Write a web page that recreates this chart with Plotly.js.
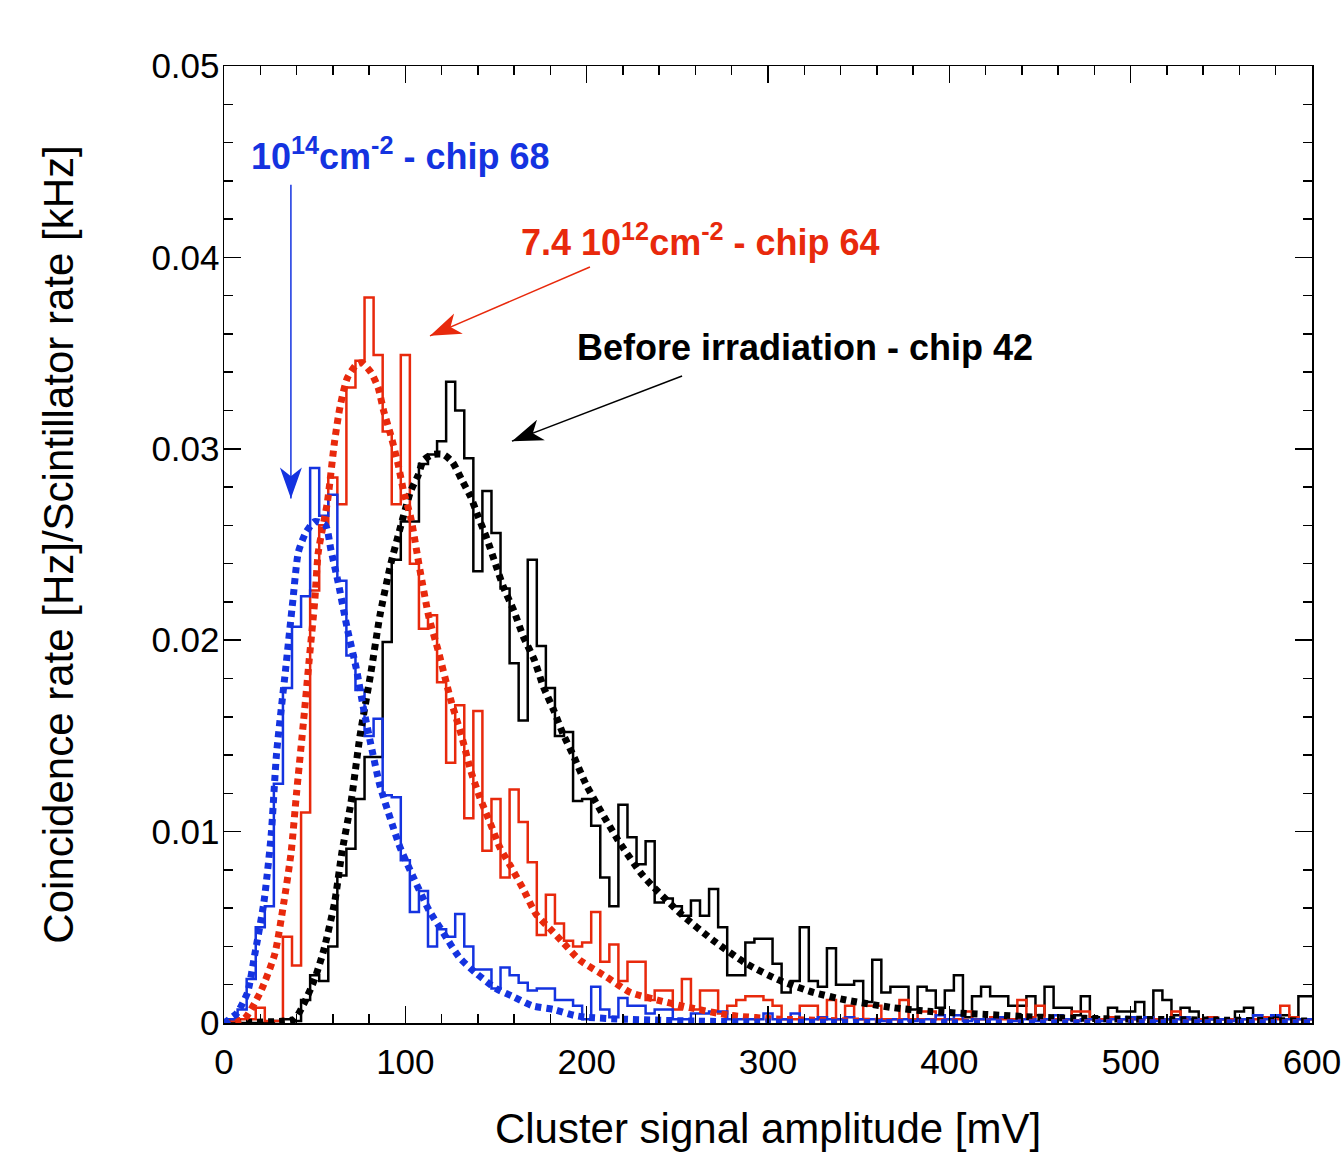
<!DOCTYPE html>
<html>
<head>
<meta charset="utf-8">
<script src="https://cdn.plot.ly/plotly-3.0.1.min.js"></script>
<style>
  html, body { margin: 0; padding: 0; background: #ffffff; }
  #chart { width: 1342px; height: 1152px; }
</style>
</head>
<body>
<div id="chart"></div>
<script>
// ---- Data ----
// Histogram bin centres [mV], bin width 5 mV
const binCenters = [0,5,10,15,20,25,30,35,40,45,50,55,60,65,70,75,80,85,90,95,
  100,105,110,115,120,125,130,135,140,145,150,155,160,165,170,175,180,185,190,195,
  200,205,210,215,220,225,230,235,240,245,250,255,260,265,270,275,280,285,290,295,
  300,305,310,315,320,325,330,335,340,345,350,355,360,365,370,375,380,385,390,395,
  400,405,410,415,420,425,430,435,440,445,450,455,460,465,470,475,480,485,490,495,
  500,505,510,515,520,525,530,535,540,545,550,555,560,565,570,575,580,585,590,595,600];

// Before irradiation - chip 42 (black histogram)
const chip42Hist = [0,0,0,0,0,0,0.0001,0.0002,0.0001,0.0012,0.0025,0.0022,0.0040,0.0077,0.0091,0.0117,0.0139,0.0139,0.0199,0.0242,
  0.0262,0.0262,0.0292,0.0297,0.0304,0.0335,0.0320,0.0295,0.0236,0.0278,0.0256,0.0227,0.0188,0.0158,0.0242,0.0197,0.0175,0.0150,0.0152,0.0116,
  0.0117,0.0103,0.0076,0.0061,0.0114,0.0097,0.0083,0.0095,0.0063,0.0065,0.0061,0.0056,0.0064,0.0056,0.0070,0.0050,0.0025,0.0025,0.0042,0.0044,
  0.0044,0.0031,0.0016,0.0022,0.0050,0.0022,0.0019,0.0039,0.0020,0.0020,0.0022,0.0011,0.0033,0.0016,0.0019,0.0019,0.0007,0.0019,0.0017,0.0008,
  0.0017,0.0025,0.0003,0.0014,0.0019,0.0014,0.0014,0.0009,0.0009,0.0014,0.0004,0.0019,0.0008,0.0008,0.0004,0.0014,0.0003,0.0002,0.0008,0.0006,
  0.0006,0.0011,0.0003,0.0017,0.0012,0.0004,0.0008,0.0006,0.0002,0.0002,0.0002,0.0002,0.0006,0.0008,0.0004,0.0003,0.0003,0.0004,0.0003,0.0014,0.0014];

// 7.4 10^12 cm^-2 - chip 64 (red histogram)
const chip64Hist = [0.0001,0.0001,0.0002,0.0002,0.0008,0.0001,0.0001,0.0045,0.0030,0.0110,0.0226,0.0260,0.0285,0.0271,0.0332,0.0346,0.0379,0.0349,0.0309,0.0271,
  0.0349,0.0240,0.0206,0.0213,0.0178,0.0136,0.0166,0.0107,0.0163,0.0090,0.0117,0.0076,0.0122,0.0105,0.0084,0.0046,0.0067,0.0052,0.0043,0.0040,
  0.0042,0.0058,0.0032,0.0041,0.0022,0.0032,0.0032,0.0012,0.0017,0.0017,0.0007,0.0023,0.0007,0.0017,0.0017,0.0005,0.0009,0.0012,0.0014,0.0014,
  0.0012,0.0009,0.0002,0.0002,0.0009,0.0009,0.0002,0.0012,0.0002,0.0009,0.0002,0.0009,0.0009,0.0002,0.0002,0.0012,0.0002,0.0006,0.0006,0.0002,
  0.0002,0.0002,0.0006,0.0002,0.0002,0.0003,0.0002,0.0002,0.0012,0.0003,0.0009,0.0002,0.0002,0.0002,0.0006,0.0006,0.0002,0.0002,0.0003,0.0002,
  0.0002,0.0002,0.0003,0.0002,0.0002,0.0006,0.0002,0.0002,0.0002,0.0003,0.0002,0.0002,0.0002,0.0002,0.0002,0.0003,0.0002,0.0009,0.0003,0.0002,0.0002];

// 10^14 cm^-2 - chip 68 (blue histogram)
const chip68Hist = [0.0001,0.0002,0.0007,0.0023,0.0050,0.0061,0.0125,0.0175,0.0207,0.0223,0.0290,0.0265,0.0276,0.0231,0.0192,0.0174,0.0150,0.0159,0.0119,0.0118,
  0.0085,0.0058,0.0069,0.0040,0.0049,0.0045,0.0057,0.0040,0.0028,0.0028,0.0018,0.0029,0.0025,0.0021,0.0017,0.0018,0.0018,0.0012,0.0012,0.0009,
  0.0002,0.0019,0.0007,0.0003,0.0013,0.0009,0.0009,0.0005,0.0007,0.0007,0.0002,0.0002,0.0005,0.0005,0.0006,0.0006,0.0002,0.0002,0.0002,0.0002,
  0.0005,0.0002,0.0002,0.0005,0.0002,0.0002,0.0003,0.0002,0.0002,0.0003,0.0002,0.0002,0.0002,0.0001,0.0002,0.0002,0.0001,0.0002,0.0002,0.0004,
  0.0002,0.0004,0.0001,0.0002,0.0002,0.0002,0.0003,0.0001,0.0002,0.0002,0.0001,0.0002,0.0004,0.0002,0.0001,0.0002,0.0002,0.0001,0.0002,0.0002,
  0.0003,0.0002,0.0003,0.0001,0.0002,0.0002,0.0003,0.0002,0.0001,0.0002,0.0002,0.0001,0.0002,0.0002,0.0004,0.0002,0.0004,0.0002,0.0002,0.0002,0.0002];

// Fitted curves (dotted)
const chip42FitX = [0,33,39,44,50,55,61,65,70,75,81,86,92,97,99,103,107,110,115,121,126,131,136,140,145,150,154,160,165,171,176,182,187,193,200,217,231,252,270,288,307,325,343,369,390,420,450,500,550,600];
const chip42FitY = [0,0.0001,0.0002,0.0010,0.0023,0.0038,0.0063,0.0089,0.0115,0.0150,0.0183,0.0213,0.0240,0.0258,0.0265,0.0278,0.0286,0.0294,0.0297,0.0297,0.0293,0.0284,0.0275,0.0265,0.0253,0.0239,0.0228,0.0215,0.0202,0.0190,0.0176,0.0163,0.0151,0.0139,0.0124,0.0096,0.0077,0.0057,0.0043,0.0031,0.0022,0.0016,0.0012,0.0008,0.0006,0.00045,0.0003,0.0002,0.00015,0.0001];

const chip64FitX = [0,11,20,28,33,37,40,44,47,50,52,57,61,64,68,73,76,81,85,88,92,96,99,103,108,113,118,125,131,136,141,147,152,158,165,172,180,187,196,211,224,239,257,279,307,350,400,500,600];
const chip64FitY = [0,0.0002,0.0016,0.0036,0.0063,0.0089,0.0120,0.0159,0.0190,0.0220,0.0246,0.0272,0.0304,0.0322,0.0337,0.0344,0.0345,0.0340,0.0332,0.0320,0.0307,0.0292,0.0278,0.0264,0.0237,0.0212,0.0195,0.0169,0.0150,0.0132,0.0118,0.0104,0.0092,0.0082,0.0070,0.0057,0.0049,0.0042,0.0033,0.0024,0.0016,0.0012,0.0008,0.0004,0.0002,0.0001,0.00005,0.00002,0.00001];

const chip68FitX = [0,7,13,17,22,26,29,34,38,41,45,50,56,59,63,68,73,77,82,86,92,97,104,113,121,130,139,150,159,170,182,193,200,220,260,300,400,500,600];
const chip68FitY = [0,0.0005,0.0016,0.0036,0.0063,0.0098,0.0141,0.0185,0.0221,0.0246,0.0256,0.0262,0.0260,0.0247,0.0230,0.0206,0.0185,0.0164,0.0141,0.0124,0.0106,0.0092,0.0077,0.0059,0.0047,0.0034,0.0026,0.0018,0.0014,0.0009,0.0007,0.0004,0.0003,0.0002,0.0001,0.00005,0.00002,0.00001,0.00001];

// Labels
const labels = {
  chip68: '<b>10<sup>14</sup>cm<sup>-2</sup> - chip 68</b>',
  chip64: '<b>7.4 10<sup>12</sup>cm<sup>-2</sup> - chip 64</b>',
  chip42: '<b>Before irradiation - chip 42</b>'
};
const xTitle = 'Cluster signal amplitude [mV]';
const yTitle = 'Coincidence rate [Hz]/Scintillator rate [kHz]';

// ---- Styles ----
const BLACK = '#000000';
const RED = '#e8290c';
const BLUE = '#1433e0';
const FONT = 'Liberation Sans, Arial, Helvetica, sans-serif';

const W = 1342, H = 1152;
const M = { l: 224, r: 30, t: 66, b: 129 };
const X_RANGE = [0, 600], Y_RANGE = [0, 0.05];

function histTrace(y, color) {
  return { x: binCenters, y: y, type: 'scatter', mode: 'lines',
    line: { shape: 'hvh', color: color, width: 2.5 }, hoverinfo: 'skip' };
}
function fitTrace(x, y, color) {
  return { x: x, y: y, type: 'scatter', mode: 'lines',
    line: { shape: 'spline', smoothing: 0.6, color: color, width: 7, dash: '6px,5px' }, hoverinfo: 'skip' };
}

const traces = [
  histTrace(chip42Hist, BLACK),
  histTrace(chip64Hist, RED),
  histTrace(chip68Hist, BLUE),
  fitTrace(chip42FitX, chip42FitY, BLACK),
  fitTrace(chip64FitX, chip64FitY, RED),
  fitTrace(chip68FitX, chip68FitY, BLUE)
];

// Arrows: thin line + filled barbed head (head drawn in pixels, anchored at the tip)
const arrowDefs = [
  { tail: [36.9, 0.0438], tip: [36.9, 0.0274], color: BLUE },
  { tail: [201.8, 0.0395], tip: [113.6, 0.0359], color: RED },
  { tail: [252.6, 0.0338], tip: [158.8, 0.0304], color: BLACK }
];
const pxPerX = (W - M.l - M.r) / (X_RANGE[1] - X_RANGE[0]);
const pxPerY = (H - M.t - M.b) / (Y_RANGE[1] - Y_RANGE[0]);
function arrowShapes(a) {
  const dx = (a.tip[0] - a.tail[0]) * pxPerX;
  const dy = (a.tip[1] - a.tail[1]) * pxPerY;
  const len = Math.hypot(dx, dy);
  const ux = dx / len, uy = dy / len;
  const px = -uy, py = ux;
  const L = 31, HW = 11, N = 0.72 * L;
  const p1 = [-L * ux + HW * px, -L * uy + HW * py];
  const p2 = [-N * ux, -N * uy];
  const p3 = [-L * ux - HW * px, -L * uy - HW * py];
  const f = v => v.toFixed(2);
  return [
    { type: 'line', xref: 'x', yref: 'y', x0: a.tail[0], y0: a.tail[1], x1: a.tip[0], y1: a.tip[1],
      line: { color: a.color, width: 1.5 } },
    { type: 'path', xref: 'x', yref: 'y', xsizemode: 'pixel', ysizemode: 'pixel',
      xanchor: a.tip[0], yanchor: a.tip[1],
      path: 'M0,0 L' + f(p1[0]) + ',' + f(p1[1]) + ' L' + f(p2[0]) + ',' + f(p2[1]) +
            ' L' + f(p3[0]) + ',' + f(p3[1]) + ' Z',
      fillcolor: a.color, line: { width: 0 } }
  ];
}
const shapes = [].concat.apply([], arrowDefs.map(arrowShapes));

const axisCommon = {
  showgrid: false, zeroline: false,
  showline: true, linecolor: BLACK, linewidth: 1.5, mirror: 'ticks',
  ticks: 'inside', ticklen: 17, tickwidth: 1.5, tickcolor: BLACK,
  tickfont: { family: FONT, size: 35, color: BLACK }
};

const layout = {
  width: W, height: H,
  margin: M,
  paper_bgcolor: '#ffffff', plot_bgcolor: '#ffffff',
  showlegend: false, hovermode: false,
  font: { family: FONT, color: BLACK },
  xaxis: Object.assign({}, axisCommon, {
    range: X_RANGE, tick0: 0, dtick: 100, ticklabelstandoff: 7,
    minor: { dtick: 20, ticks: 'inside', ticklen: 9, tickwidth: 1.5, tickcolor: BLACK },
    title: { text: xTitle, font: { family: FONT, size: 42, color: BLACK }, standoff: 49 }
  }),
  yaxis: Object.assign({}, axisCommon, {
    range: Y_RANGE, tick0: 0, dtick: 0.01, ticklabelstandoff: -4,
    minor: { dtick: 0.002, ticks: 'inside', ticklen: 9, tickwidth: 1.5, tickcolor: BLACK },
    title: { text: yTitle, font: { family: FONT, size: 42, color: BLACK }, standoff: 64 }
  }),
  shapes: shapes,
  annotations: [
    { xref: 'x', yref: 'y', x: 13.8, y: 0.0454, xanchor: 'left', yanchor: 'middle',
      text: labels.chip68, showarrow: false, font: { family: FONT, size: 36, color: BLUE } },
    { xref: 'x', yref: 'y', x: 162.7, y: 0.0409, xanchor: 'left', yanchor: 'middle',
      text: labels.chip64, showarrow: false, font: { family: FONT, size: 36, color: RED } },
    { xref: 'x', yref: 'y', x: 193.6, y: 0.0353, xanchor: 'left', yanchor: 'middle',
      text: labels.chip42, showarrow: false, font: { family: FONT, size: 36, color: BLACK } }
  ]
};

Plotly.newPlot('chart', traces, layout, { staticPlot: true, displayModeBar: false });
</script>
</body>
</html>
